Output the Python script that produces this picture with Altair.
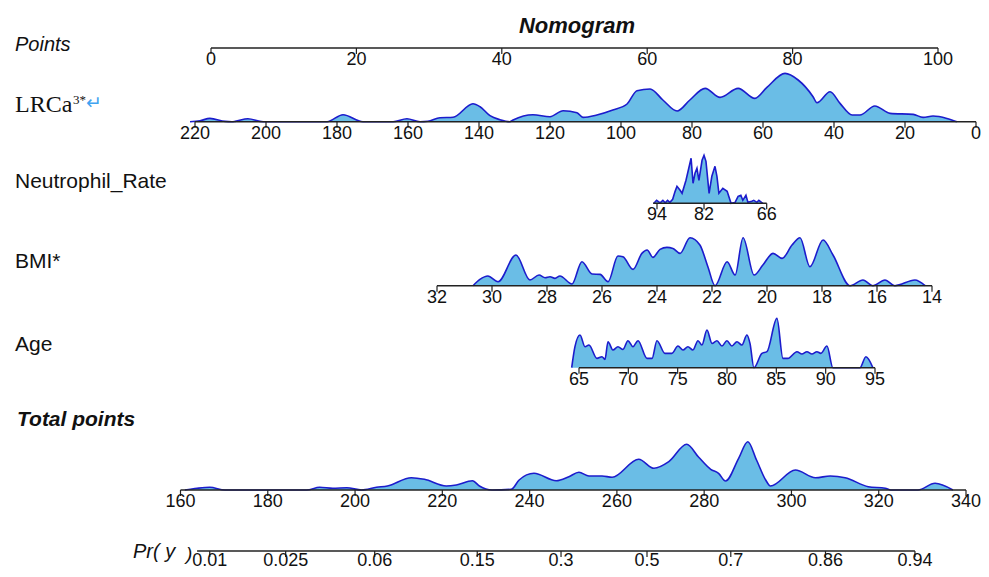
import altair as alt
import pandas as pd

# ---------------- data ----------------
points_ticks = [0, 20, 40, 60, 80, 100]

lrca_ticks = [220, 200, 180, 160, 140, 120, 100, 80, 60, 40, 20, 0]
lrca_val = [221.4, 218.6, 215.8, 211.5, 209.6, 208.7, 205.1, 200.8, 182.8, 178.3,
            172.7, 164.2, 160.3, 156.6, 154.4, 151.0, 147.3, 141.7, 139.7, 136.9,
            134.1, 131.3, 130.4, 124.8, 120.0, 116.3, 112.4, 110.7, 106.8, 102.3,
            98.3, 95.5, 91.8, 88.2, 84.2, 80.6, 76.3, 72.1, 67.0, 62.3,
            58.9, 53.8, 50.1, 45.9, 44.8, 41.1, 38.3, 34.9, 32.7, 28.5,
            24.2, 17.7, 14.9, 12.1, 8.2, 5.4]
lrca_den = [0, 1, 3.3, 0.3, 0, 0.3, 3, 0, 0, 7,
            0, 0, 3, 0, 0.5, 4, 4.5, 18, 15, 6,
            2, 0, 1.7, 7, 5, 11, 9, 4.3, 6.7, 11.7,
            17.7, 31, 32.7, 21.7, 10.7, 21.7, 33.3, 24.3, 33.3, 23.3,
            34.3, 48.3, 41.7, 25, 19, 30, 18.3, 6.7, 6.7, 15.7,
            8.3, 7.3, 4.3, 5.7, 3.3, 0]

neu_ticks = [94, 82, 66]
neu_val = [94.8, 94.1, 93.2, 92.5, 91.9, 91.3, 90.7, 90.0, 89.4, 88.9,
           88.1, 87.6, 86.6, 85.3, 84.8, 84.3, 83.8, 83.3, 82.5, 82.0,
           81.5, 80.7, 80.0, 79.2, 78.7, 78.2, 77.2, 76.1, 75.1, 74.1,
           73.3, 72.6, 72.1, 71.3, 70.8, 69.8, 69.3, 68.5, 68.0, 67.0]
neu_den = [0, 3, 0.5, 3, 0.5, 3, 1, 4, 11.7, 17,
           13, 10, 23, 45, 20, 30, 35, 23, 43, 48,
           42, 10, 27, 37, 27, 10, 15, 12, 0, 0.7,
           7, 8, 3, 8, 1, 2, 3, 1, 3, 0]

bmi_ticks = [32, 30, 28, 26, 24, 22, 20, 18, 16, 14]
bmi_val = [30.69, 30.44, 30.15, 29.78, 29.13, 28.62, 28.29, 28.07, 27.89, 27.71,
           27.53, 27.09, 26.73, 26.36, 26.07, 25.78, 25.42, 25.24, 24.87, 24.55,
           24.36, 24.15, 23.89, 23.64, 23.42, 23.16, 22.80, 22.44, 22.15, 21.89,
           21.45, 21.16, 20.87, 20.47, 20.15, 19.78, 19.45, 19.09, 18.80, 18.44,
           17.96, 17.60, 16.98, 16.51, 16.15, 15.71, 15.35, 14.62, 14.25]
bmi_den = [0, 6.3, 9.7, 4, 30.7, 5.7, 10.7, 8, 9, 7.3,
           9.7, 1.7, 24, 11.7, 11.3, 4, 29.7, 29, 16.3, 32.3,
           35.7, 28.3, 36.3, 38.3, 37.3, 32.3, 48, 40.7, 19, 0,
           24, 10.7, 48, 10.7, 20.7, 32.3, 27.3, 40.7, 48, 19,
           45.7, 30.7, 0, 5.7, 0, 5.7, 0, 5.7, 0]

age_ticks = [65, 70, 75, 80, 85, 90, 95]
age_val = [64.26, 64.59, 65.10, 65.61, 66.01, 66.82, 67.33, 67.63, 67.94, 68.44,
           68.95, 69.46, 69.96, 70.47, 70.98, 71.89, 72.40, 72.90, 73.71, 74.42,
           75.03, 75.54, 76.04, 76.55, 77.06, 77.46, 77.97, 78.48, 78.98, 79.49,
           79.99, 80.50, 81.01, 81.51, 82.02, 82.33, 82.73, 83.54, 84.05, 85.06,
           85.67, 86.18, 87.09, 87.59, 88.10, 88.61, 89.11, 89.52, 90.13, 90.73,
           93.47, 94.08, 94.79]
age_den = [0, 21, 32.7, 21, 22.7, 9.3, 11, 8.3, 26, 17.7,
           21, 18.3, 27, 21, 27, 9.3, 9.3, 27, 14.3, 14.3,
           21.7, 17.7, 21, 17.7, 27, 22.7, 37.7, 24.3, 27, 21.7,
           27, 21.7, 26, 22.7, 32.7, 24.3, 0, 14.3, 16, 49.3,
           9.3, 9.3, 16, 13.7, 16, 13.7, 16, 14.3, 21.7, 0,
           0, 11, 0]

total_ticks = [160, 180, 200, 220, 240, 260, 280, 300, 320, 340]
total_val = [161.0, 163.8, 166.7, 170.2, 188.9, 191.9, 194.9, 198.1, 201.5, 204.9,
             207.4, 212.9, 215.9, 220.9, 223.2, 226.9, 228.5, 231.4, 235.8, 237.6,
             241.0, 246.1, 249.0, 251.3, 253.6, 256.6, 258.9, 265.0, 268.5, 271.9,
             276.0, 278.7, 281.5, 283.3, 284.9, 287.9, 290.0, 292.0, 294.1, 295.2,
             300.9, 305.5, 308.9, 312.3, 317.6, 321.5, 322.8, 329.0, 332.9, 337.0]
total_den = [0, 1.7, 2.7, 0, 0, 2.7, 1.7, 2.3, 0, 2.7,
             4, 12.3, 10.7, 4, 5, 9.3, 4, 0, 0.7, 10,
             16.7, 9.3, 13.3, 17.7, 14, 14, 12.7, 30.7, 21.7, 28.3,
             45.7, 33, 20.7, 16.7, 9, 31.7, 48.3, 30, 10, 4,
             20, 12.3, 14, 12.3, 3.3, 1.7, 0, 0, 6.7, 0]

pr_labels = ["0.01", "0.025", "0.06", "0.15", "0.3", "0.5", "0.7", "0.86", "0.94"]
pr_at_total = [166.7, 184.1, 204.5, 228.0, 247.2, 266.9, 286.1, 307.8, 328.3]

# ---------------- style ----------------
FILL = "#6abde6"
EDGE = "#1c1ccc"
AXIS = "#222222"
TXT = "#111111"
SANS = "Liberation Sans"
SERIF = "Liberation Serif"


def row(x_dom, x_rng, base, span, ticks, labels, dens=None, interp="monotone",
        label_dy=17):
    xs = alt.Scale(domain=x_dom, range=x_rng)
    ys = alt.Scale(domain=[0, 50], range=[base, base - 50])
    layers = []
    if dens is not None:
        df = pd.DataFrame({"v": dens[0], "h": dens[1]})
        layers.append(
            alt.Chart(df)
            .mark_area(color=FILL, opacity=1, interpolate=interp,
                       line={"color": EDGE, "strokeWidth": 1.6})
            .encode(x=alt.X("v:Q", scale=xs, axis=None),
                    y=alt.Y("h:Q", scale=ys, axis=None))
        )
    ldf = pd.DataFrame({"a": [span[0]], "b": [span[1]], "z": [0]})
    layers.append(
        alt.Chart(ldf).mark_rule(color=AXIS, strokeWidth=1.5)
        .encode(x=alt.X("a:Q", scale=xs, axis=None), x2="b:Q",
                y=alt.Y("z:Q", scale=ys, axis=None))
    )
    tdf = pd.DataFrame({"t": ticks, "lab": labels,
                        "z0": [0] * len(ticks), "z1": [-6] * len(ticks)})
    layers.append(
        alt.Chart(tdf).mark_rule(color=AXIS, strokeWidth=1.2)
        .encode(x=alt.X("t:Q", scale=xs, axis=None),
                y=alt.Y("z0:Q", scale=ys, axis=None), y2="z1:Q")
    )
    layers.append(
        alt.Chart(tdf).mark_text(font=SANS, fontSize=18, color=TXT,
                                 baseline="alphabetic", dy=label_dy)
        .encode(x=alt.X("t:Q", scale=xs, axis=None),
                y=alt.Y("z0:Q", scale=ys, axis=None), text="lab:N")
    )
    return alt.layer(*layers)


def label(txt, x, y, size=21, font=SANS, style="normal", weight="normal",
          color=TXT, align="left"):
    return alt.Chart(pd.DataFrame({"k": [0]})).mark_text(
        text=txt, font=font, fontSize=size, fontStyle=style, fontWeight=weight,
        color=color, align=align, baseline="alphabetic"
    ).encode(x=alt.value(x), y=alt.value(y))


s = lambda lst: [str(v) for v in lst]

rows = [
    row([0, 100], [203, 930], 40, [0, 100], points_ticks, s(points_ticks)),
    row([0, 220], [968, 187], 113.7, [0, 220], lrca_ticks, s(lrca_ticks),
        (lrca_val, lrca_den)),
    row([66, 94], [758.7, 649], 195.3, [66, 95], neu_ticks, s(neu_ticks),
        (neu_val, neu_den), interp="linear"),
    row([14, 32], [924, 429], 277.7, [14, 32], bmi_ticks, s(bmi_ticks),
        (bmi_val, bmi_den)),
    row([65, 95], [571, 867], 359.7, [65, 95], age_ticks, s(age_ticks),
        (age_val, age_den)),
    row([160, 340], [172.5, 958], 482, [160, 340], total_ticks, s(total_ticks),
        (total_val, total_den)),
    row([160, 340], [172.5, 958], 543, [163.8, 328.3], pr_at_total, pr_labels,
        label_dy=14.5),
]

texts = [
    label("Nomogram", 569, 25, size=22, style="italic", weight="bold", align="center"),
    label("Points", 7, 42.7, size=20, style="italic"),
    label("LRCa", 7, 104, size=24, font=SERIF),
    label("3*", 65, 96, size=13, font=SERIF),
    label("\u21b5", 78, 101, size=19, font="DejaVu Sans", color="#3fa3f0"),
    label("Neutrophil_Rate", 7, 180.3),
    label("BMI*", 7, 260.3),
    label("Age", 7, 343),
    label("Total points", 9, 418, style="italic", weight="bold"),
    label("Pr(  y", 125, 550, size=20, style="italic"),
    label(")", 178, 552, size=19, style="italic"),
]

chart = (
    alt.layer(*rows, *texts)
    .resolve_scale(x="independent", y="independent")
    .properties(width=973, height=561, padding=0,
                autosize=alt.AutoSizeParams(type="none"))
    .configure_view(stroke=None)
)

chart.save("out.html", embed_options={"renderer": "svg", "actions": False})
